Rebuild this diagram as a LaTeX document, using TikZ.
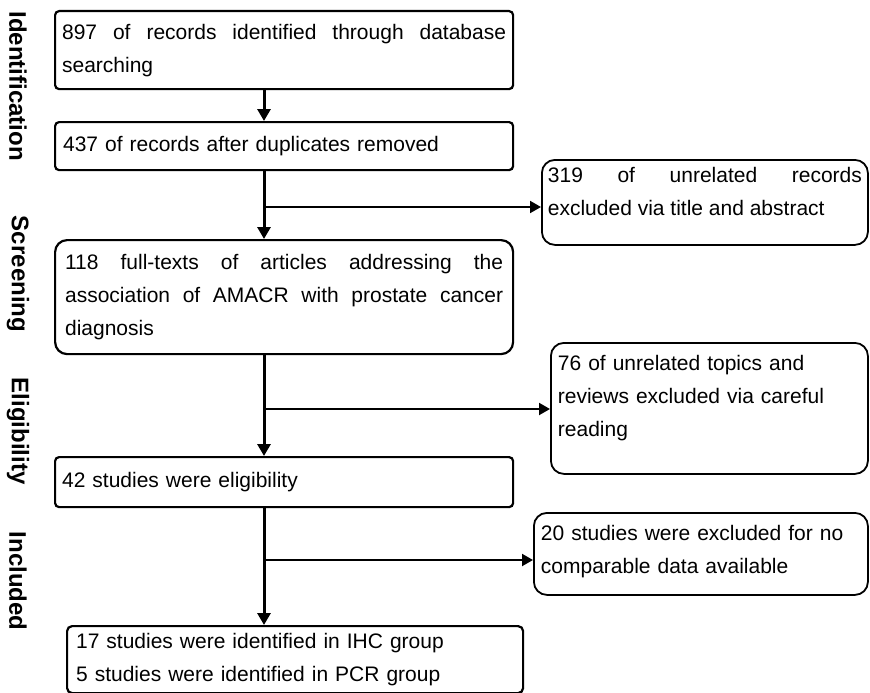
\documentclass[tikz,border=0pt]{standalone}
\usepackage{fontspec}
\setmainfont{Liberation Sans}
\usetikzlibrary{arrows.meta}
\tolerance=10000
\hbadness=10000

\begin{document}
\begin{tikzpicture}[x=1pt,y=-1pt,
  box/.style={draw=black,line width=2.2pt,rounded corners=4pt,anchor=north west,
    inner xsep=7pt,inner ysep=0pt,align=justify,font=\fontsize{21}{33}\selectfont},
  sidebox/.style={box,line width=1.8pt,rounded corners=13pt,align=left},
  phase/.style={rotate=-90,inner sep=0pt,font=\fontsize{24}{28}\selectfont\bfseries},
  flow/.style={-{Triangle[length=12pt,width=13pt]},line width=3pt},
  branch/.style={-{Triangle[length=11pt,width=12pt]},line width=2pt}
]
\useasboundingbox (0,0) rectangle (870,693);

% phases
\node[phase] (ident) at (18,86) {Identification};
\node[phase] (screen) at (18,274) {Screening};
\node[phase] (elig) at (18,431) {Eligibility};
\node[phase] (incl) at (18,581) {Included};

% main column
\node[box,text width=444pt,minimum height=78pt] (rec) at (54,10)
  {897 of records identified through database\linebreak searching};
\node[box,text width=442pt,inner xsep=8pt,minimum height=48pt,align=left] (dedup) at (54,121)
  {437 of records after duplicates removed};
\node[box,rounded corners=12pt,text width=438pt,inner xsep=10pt,minimum height=114pt] (full) at (54,239)
  {118 full-texts of articles addressing the\linebreak association of AMACR with prostate cancer\linebreak diagnosis};
\node[box,text width=444pt,minimum height=50pt,align=left] (elstud) at (54,456)
  {42 studies were eligibility};
\node[box,rounded corners=5pt,text width=438pt,inner xsep=9pt,minimum height=67pt,align=left] (final) at (66,625)
  {17 studies were identified in IHC group\\5 studies were identified in PCR group};

% exclusions
\node[sidebox,align=justify,text width=314pt,inner xsep=6pt,text height=22.5pt,text depth=62.5pt] (excl1) at (541,159)
  {319 of unrelated records\linebreak excluded via title and abstract};
\node[sidebox,text width=303pt,text height=27.5pt,text depth=103.5pt] (excl2) at (550,342)
  {76 of unrelated topics and\\reviews excluded via careful\\reading};
\node[sidebox,text width=320pt,text height=27.5pt,text depth=54.5pt] (excl3) at (533,512)
  {20 studies were excluded for no\\comparable data available};

\coordinate (s1) at (264,207);
\coordinate (s2) at (264,409);
\coordinate (s3) at (264,560);

\draw[flow] (rec.south -| s1) -- (dedup.north -| s1);
\draw[flow] (dedup.south -| s1) -- (full.north -| s1);
\draw[flow] (full.south -| s2) -- (elstud.north -| s2);
\draw[flow] (elstud.south -| s3) -- (final.north -| s3);
\draw[branch] (s1) -- (excl1.west |- s1);
\draw[branch] (s2) -- (excl2.west |- s2);
\draw[branch] (s3) -- (excl3.west |- s3);
\end{tikzpicture}
\end{document}
